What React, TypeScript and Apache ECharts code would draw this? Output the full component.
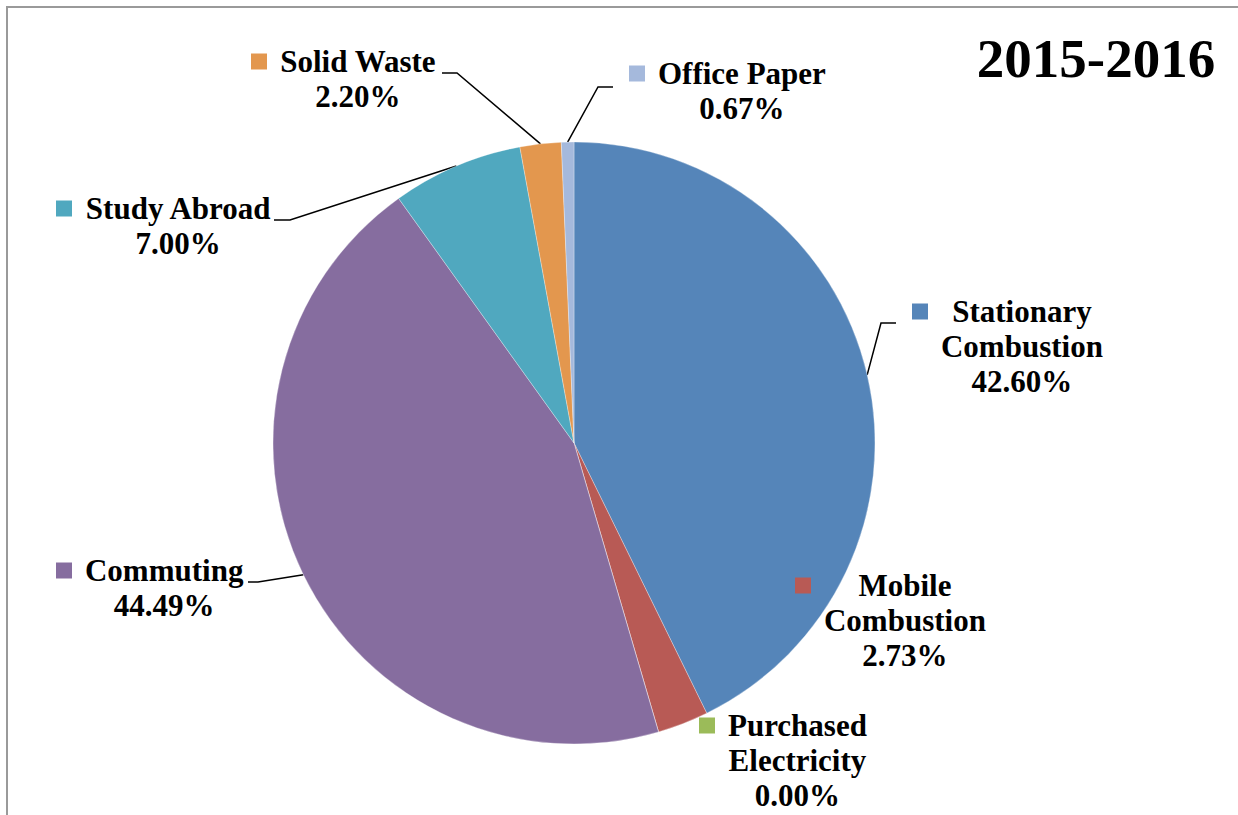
import React, { useEffect, useRef } from 'react';
import * as echarts from 'echarts';

const TITLE = '2015-2016';
const CATEGORIES = [
  'Stationary\nCombustion',
  'Mobile\nCombustion',
  'Purchased\nElectricity',
  'Commuting',
  'Study Abroad',
  'Solid Waste',
  'Office Paper',
];
const VALUES = [42.6, 2.73, 0.0, 44.49, 7.0, 2.2, 0.67];
const COLORS = ['#5585B9', '#B85A55', '#9BBB59', '#866D9F', '#50A8BF', '#E3974E', '#A5B9DC'];

// label placement: [left edge of the key square, top of the label block]
const LABEL_POS: number[][] = [
  [912, 294],
  [795, 568],
  [699, 708],
  [56, 553],
  [56, 191],
  [251, 44],
  [629, 56],
];
// leader line bend and end points (null = no leader line)
const LEADERS: (number[][] | null)[] = [
  [[881, 323], [896, 323]],
  null,
  null,
  [[258, 582], [248, 582]],
  [[290, 220], [274, 220]],
  [[457, 73], [442, 73]],
  [[598, 87], [613, 87]],
];

const FONT = '"Liberation Serif", "Times New Roman", serif';
const LH = 35;

export default function App() {
  const ref = useRef<HTMLDivElement>(null);
  useEffect(() => {
    if (!ref.current) return;
    const chart = echarts.init(ref.current, undefined, { renderer: 'svg' });
    const rich: any = {
      t: { fontFamily: FONT, fontWeight: 'bold', fontSize: 31, lineHeight: LH, color: '#000', align: 'center' },
      g: { width: 13, lineHeight: LH, align: 'left' },
      sp: { width: 29, lineHeight: LH, align: 'left' },
    };
    COLORS.forEach((c, i) => {
      rich['sq' + i] = { width: 16, height: 16, backgroundColor: c, lineHeight: LH, align: 'left' };
    });
    const data = CATEGORIES.map((name, i) => ({
      name,
      value: VALUES[i],
      itemStyle: { color: COLORS[i] },
      labelLine: { show: LEADERS[i] != null },
    }));
    chart.setOption({
      animation: false,
      backgroundColor: '#fff',
      graphic: [
        {
          type: 'rect',
          silent: true,
          shape: { x: 7, y: 7, width: 1400, height: 1000 },
          style: { fill: 'none', stroke: '#9a9a9a', lineWidth: 2 },
        },
        {
          type: 'text',
          x: 1096,
          y: 58.5,
          style: {
            text: TITLE,
            fontFamily: FONT,
            fontWeight: 'bold',
            fontSize: 55,
            fill: '#000',
            align: 'center',
            verticalAlign: 'middle',
          },
        },
      ],
      series: [
        {
          type: 'pie',
          center: [574, 443],
          radius: 301,
          startAngle: 90,
          clockwise: true,
          avoidLabelOverlap: false,
          emphasis: { disabled: true },
          itemStyle: { borderColor: 'rgba(255,255,255,0.5)', borderWidth: 0.6 },
          label: {
            show: true,
            position: 'outside',
            fontFamily: FONT,
            fontWeight: 'bold',
            fontSize: 31,
            color: '#000',
            formatter: (p: any) => {
              const i = p.dataIndex;
              const lines = [...String(p.name).split('\n'), Number(p.value).toFixed(2) + '%'];
              return lines.map((l, k) => (k === 0 ? `{sq${i}|}{g|}` : '{sp|}') + `{t|${l}}`).join('\n');
            },
            rich,
          },
          labelLine: { show: true, lineStyle: { color: '#000', width: 1.5 } },
          labelLayout: (params: any) => {
            const i = params.dataIndex;
            const [x, y] = LABEL_POS[i];
            const res: any = { x, y, align: 'left', verticalAlign: 'top' };
            const ld = LEADERS[i];
            if (ld && params.labelLinePoints) {
              res.labelLinePoints = [params.labelLinePoints[0], ld[0], ld[1]];
            }
            return res;
          },
          data,
        },
      ],
    });
    return () => chart.dispose();
  }, []);
  return (
    <div
      ref={ref}
      style={{ position: 'fixed', left: 0, top: 0, width: 1238, height: 815, background: '#fff' }}
    />
  );
}
